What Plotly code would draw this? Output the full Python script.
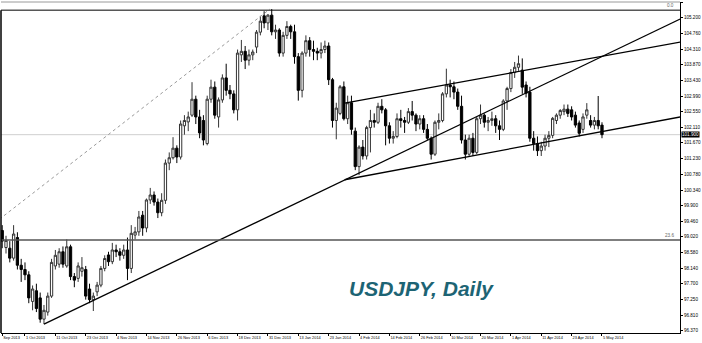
import numpy as np
import pandas as pd
import plotly.graph_objects as go

# ---------------- data ----------------
bar_dates = [d for d in pd.bdate_range("2013-09-23", "2014-05-05")
             if d.strftime("%Y-%m-%d") not in ("2013-12-25", "2014-01-01")]

opens = [
    99.20, 98.72, 98.70, 98.42, 99.00, 98.22, 98.10, 97.95, 97.20, 97.50,
    97.30, 96.70, 96.90, 97.35, 98.20, 98.25, 98.60, 98.20, 98.74, 97.90,
    97.85, 98.05, 98.10, 97.55, 97.25, 97.47, 97.66, 98.13, 98.51, 98.32,
    98.65, 98.60, 98.50, 98.65, 98.13, 99.07, 99.16, 99.63, 99.27, 100.06,
    100.20, 100.00, 99.70, 100.05, 101.10, 101.25, 101.52, 101.27, 102.15, 102.26,
    102.45, 102.90, 102.40, 102.30, 101.65, 102.90, 103.24, 102.40, 102.88, 103.50,
    103.15, 103.05, 102.60, 104.15, 104.25, 104.00, 104.15, 104.37, 104.79, 105.25,
    105.05, 105.27, 104.80, 104.85, 104.20, 104.70, 104.95, 104.80, 104.10, 103.15,
    104.20, 104.55, 104.30, 104.25, 104.20, 104.30, 104.40, 103.45, 102.30, 102.50,
    103.25, 102.35, 102.80, 102.00, 101.00, 101.55, 101.30, 102.10, 102.30, 102.25,
    102.70, 102.60, 102.15, 101.80, 101.85, 102.35, 102.30, 102.25, 102.55, 102.45,
    102.20, 102.35, 102.05, 101.80, 101.35, 102.25, 102.30, 103.05, 103.30, 103.25,
    103.10, 102.70, 101.75, 101.35, 101.80, 101.40, 102.35, 102.45, 102.25, 102.30,
    102.35, 102.15, 102.05, 102.85, 103.20, 103.65, 103.80, 103.72, 103.30, 103.10,
    101.80, 101.65, 101.45, 101.58, 101.80, 101.88, 102.30, 102.45, 102.55, 102.62,
    102.60, 102.45, 102.23, 102.05, 102.45, 102.30, 102.17, 102.30, 102.17,
]
highs = [
    99.35, 99.05, 98.90, 99.35, 99.15, 98.40, 98.30, 98.05, 97.65, 97.70,
    97.45, 97.10, 97.45, 98.40, 98.65, 98.70, 98.75, 98.95, 98.80, 98.00,
    98.30, 98.45, 98.20, 97.70, 97.45, 97.75, 98.20, 98.50, 98.60, 98.85,
    98.80, 98.70, 98.80, 99.00, 99.35, 99.30, 99.75, 99.75, 100.10, 100.40,
    100.30, 100.10, 100.25, 101.20, 101.40, 101.83, 101.60, 102.30, 102.45, 102.55,
    103.38, 103.00, 102.60, 102.45, 103.00, 103.45, 103.40, 102.95, 103.60, 103.90,
    103.30, 103.15, 104.30, 104.57, 104.40, 104.30, 104.30, 104.85, 105.25, 105.38,
    105.30, 105.44, 105.00, 104.90, 104.80, 105.10, 105.00, 105.00, 104.20, 104.25,
    104.70, 104.65, 104.55, 104.35, 104.50, 104.55, 104.50, 103.50, 102.80, 103.30,
    103.40, 103.00, 103.00, 102.10, 101.60, 101.75, 102.15, 102.60, 102.50, 102.80,
    102.90, 102.65, 102.25, 102.00, 102.50, 102.60, 102.40, 102.65, 102.85, 102.50,
    102.45, 102.45, 102.20, 101.85, 102.30, 102.50, 103.10, 103.76, 103.45, 103.40,
    103.20, 103.00, 101.90, 101.90, 101.95, 102.40, 102.75, 102.50, 102.40, 102.55,
    102.45, 102.30, 102.90, 103.25, 103.75, 103.95, 104.13, 104.05, 103.40, 103.25,
    102.00, 101.85, 101.70, 101.90, 102.00, 102.40, 102.50, 102.62, 102.75, 102.75,
    102.70, 102.55, 102.30, 102.50, 102.79, 102.45, 102.40, 102.99, 102.25,
]
lows = [
    98.70, 98.55, 98.30, 98.35, 98.10, 97.75, 97.80, 97.15, 96.95, 96.90,
    96.60, 96.56, 96.80, 97.30, 98.10, 98.15, 98.15, 98.15, 97.80, 97.60,
    97.75, 97.90, 97.25, 97.15, 96.93, 97.35, 97.60, 98.05, 98.20, 98.25,
    98.45, 98.35, 98.40, 97.80, 98.00, 98.95, 99.05, 99.05, 99.15, 99.95,
    99.90, 99.55, 99.60, 99.95, 100.90, 101.20, 101.10, 101.20, 101.90, 102.00,
    102.40, 102.20, 101.80, 101.60, 101.60, 102.80, 102.35, 102.10, 102.80, 103.00,
    102.90, 102.50, 102.30, 103.95, 103.75, 103.85, 104.00, 104.20, 104.70, 104.90,
    104.85, 104.70, 104.60, 104.10, 104.10, 104.60, 104.60, 103.90, 102.86, 102.95,
    104.10, 104.10, 104.00, 104.00, 104.05, 104.20, 103.30, 102.10, 101.77, 102.45,
    102.30, 102.20, 101.90, 100.90, 100.76, 101.20, 101.20, 101.40, 102.10, 102.20,
    102.50, 101.60, 101.65, 101.65, 101.80, 102.10, 101.95, 102.20, 102.30, 102.00,
    102.05, 101.95, 101.75, 101.20, 101.30, 102.05, 102.25, 102.95, 102.95, 102.90,
    102.60, 101.65, 101.20, 101.30, 101.30, 101.35, 102.20, 102.10, 102.00, 102.15,
    101.95, 101.75, 102.00, 102.60, 103.10, 103.50, 103.70, 103.05, 102.95, 101.70,
    101.45, 101.30, 101.30, 101.45, 101.55, 101.80, 102.20, 102.35, 102.45, 102.40,
    102.30, 102.10, 101.85, 101.95, 102.35, 102.10, 102.05, 102.05, 101.80,
]
closes = [
    98.90, 98.92, 98.42, 99.10, 98.22, 98.10, 97.95, 97.30, 97.55, 97.00,
    96.70, 96.95, 97.35, 98.30, 98.50, 98.60, 98.25, 98.74, 97.90, 97.80,
    98.20, 98.15, 97.35, 97.25, 97.35, 97.66, 98.13, 98.41, 98.32, 98.65,
    98.60, 98.50, 98.65, 98.13, 99.12, 99.16, 99.58, 99.27, 100.06, 100.20,
    100.00, 99.70, 100.05, 101.10, 101.25, 101.52, 101.27, 102.20, 102.30, 102.40,
    102.90, 102.40, 101.95, 101.75, 102.90, 103.24, 102.45, 102.88, 103.50, 103.15,
    103.05, 102.60, 104.20, 104.25, 104.00, 104.15, 104.23, 104.79, 105.10, 105.05,
    105.27, 104.80, 104.85, 104.20, 104.70, 104.95, 104.80, 104.10, 103.15, 104.20,
    104.55, 104.30, 104.25, 104.20, 104.30, 104.40, 103.45, 102.30, 102.65, 103.25,
    102.35, 102.80, 102.05, 101.00, 101.55, 101.30, 102.10, 102.30, 102.25, 102.70,
    102.60, 102.15, 101.80, 101.85, 102.35, 102.30, 102.25, 102.55, 102.45, 102.20,
    102.35, 102.05, 101.80, 101.35, 102.25, 102.30, 103.05, 103.30, 103.25, 103.10,
    102.70, 101.75, 101.35, 101.80, 101.40, 102.35, 102.45, 102.25, 102.30, 102.35,
    102.15, 102.05, 102.85, 103.20, 103.65, 103.80, 103.90, 103.24, 103.07, 101.80,
    101.65, 101.45, 101.58, 101.80, 101.88, 102.36, 102.45, 102.58, 102.62, 102.50,
    102.40, 102.17, 101.94, 102.40, 102.60, 102.17, 102.30, 102.15, 101.90,
]

tick_dates = ["2013-09-23", "2013-10-01", "2013-10-11", "2013-10-23", "2013-11-04",
              "2013-11-14", "2013-11-26", "2013-12-06", "2013-12-18", "2013-12-31",
              "2014-01-13", "2014-01-23", "2014-02-04", "2014-02-14", "2014-02-26",
              "2014-03-10", "2014-03-20", "2014-04-01", "2014-04-11", "2014-04-23",
              "2014-05-05"]
tick_text = ["Sep 2013", "1 Oct 2013", "11 Oct 2013", "23 Oct 2013", "4 Nov 2013",
             "14 Nov 2013", "26 Nov 2013", "6 Dec 2013", "18 Dec 2013", "31 Dec 2013",
             "13 Jan 2014", "23 Jan 2014", "4 Feb 2014", "14 Feb 2014", "26 Feb 2014",
             "10 Mar 2014", "20 Mar 2014", "1 Apr 2014", "11 Apr 2014", "23 Apr 2014",
             "5 May 2014"]
price_ticks = [105.640, 105.200, 104.760, 104.310, 103.870, 103.430, 102.990, 102.550,
               102.110, 101.670, 101.230, 100.780, 100.340, 99.900, 99.460, 99.020,
               98.580, 98.140, 97.700, 97.250, 96.810, 96.370]
current_price = 101.900
fib_levels = [105.41, 98.93]
fib_labels = ["0.0", "23.6"]

# trend lines: (bar index, price) pairs
trend_main = [(11, 96.56), (178.6, 105.16)]
channel_up = [(90.2, 102.79), (178.6, 104.51)]
channel_low = [(90.2, 100.63), (178.6, 102.40)]
fib_trend = [(-12, 98.58), (70.5, 105.44)]

# ---------------- figure ----------------
date_str = [d.strftime("%Y-%m-%d") for d in bar_dates]
xi = np.arange(len(bar_dates))
tickvals = [date_str.index(d) for d in tick_dates]

fig = go.Figure()
fig.add_trace(go.Candlestick(
    x=xi, open=opens, high=highs, low=lows, close=closes,
    increasing=dict(fillcolor="white", line=dict(color="#333333", width=1)),
    decreasing=dict(fillcolor="black", line=dict(color="black", width=1)),
    whiskerwidth=0, hoverinfo="skip", showlegend=False,
))

shapes = []
def seg(p, color, width, dash="solid"):
    shapes.append(dict(type="line", xref="x", yref="y",
                       x0=p[0][0], y0=p[0][1], x1=p[1][0], y1=p[1][1],
                       line=dict(color=color, width=width, dash=dash)))

seg(fib_trend, "#9a9a9a", 1, "dot")
seg(trend_main, "black", 1.3)
seg(channel_up, "black", 1.3)
seg(channel_low, "black", 1.3)

x_lo, x_hi = -0.32, 178.55
# current price line
shapes.append(dict(type="line", xref="paper", yref="y", x0=0, x1=1,
                   y0=current_price, y1=current_price,
                   line=dict(color="#cfcfcf", width=1), layer="below"))
# fib levels
shapes.append(dict(type="line", xref="paper", yref="y", x0=0, x1=1,
                   y0=fib_levels[0], y1=fib_levels[0], line=dict(color="black", width=1)))
shapes.append(dict(type="line", xref="paper", yref="y", x0=0, x1=1,
                   y0=fib_levels[1], y1=fib_levels[1], line=dict(color="#555555", width=1.6)))
# frame lines
shapes.append(dict(type="line", xref="paper", yref="paper", x0=0, x1=1, y0=1, y1=1,
                   line=dict(color="#9a9a9a", width=1)))
shapes.append(dict(type="line", xref="paper", yref="y", x0=0, x1=0,
                   y0=96.0, y1=fib_levels[0], line=dict(color="black", width=1.5)))

annotations = []
for lvl, lab in zip(fib_levels, fib_labels):
    annotations.append(dict(xref="x", yref="y", x=177.5, y=lvl, text=lab,
                            xanchor="right", yanchor="bottom", showarrow=False,
                            font=dict(family="Liberation Sans", size=4.6, color="#666666")))
annotations.append(dict(xref="paper", yref="y", x=1.0, y=current_price,
                        text="101.900", xanchor="left", yanchor="middle", showarrow=False,
                        xshift=1, bgcolor="black", borderpad=0,
                        font=dict(family="Liberation Sans", size=4.6, color="white")))
annotations.append(dict(xref="paper", yref="paper", x=0.5096, y=0.133,
                        text="USDJPY, Daily", xanchor="left", yanchor="middle",
                        showarrow=False,
                        font=dict(family="Liberation Sans", size=21, color="#1d6474",
                                  weight="bold", style="italic")))

fig.update_layout(
    width=702, height=343, autosize=False,
    margin=dict(l=1, r=22, t=2, b=10, pad=0),
    paper_bgcolor="white", plot_bgcolor="white",
    boxgap=0.4, boxgroupgap=0,
    shapes=shapes, annotations=annotations,
    xaxis=dict(range=[x_lo, x_hi], showgrid=False, zeroline=False, automargin=False,
               rangeslider=dict(visible=False),
               showline=True, linecolor="black", linewidth=1,
               ticks="outside", ticklen=2, tickcolor="black", tickwidth=1,
               tickvals=tickvals, ticktext=tick_text, tickangle=0,
               ticklabelposition="outside right", ticklabelstandoff=0,
               tickfont=dict(family="Liberation Sans", size=3.9, color="black")),
    yaxis=dict(range=[96.31, 105.64], side="right", showgrid=False, zeroline=False,
               automargin=False,
               showline=True, linecolor="black", linewidth=1,
               ticks="outside", ticklen=2, tickcolor="black", tickwidth=1,
               tickvals=price_ticks, ticktext=[f"{v:.3f}" for v in price_ticks],
               tickfont=dict(family="Liberation Sans", size=4.6, color="black")),
)

fig.write_html("out.html")
